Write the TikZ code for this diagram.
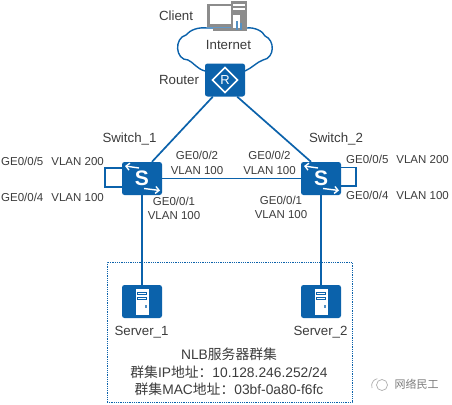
\documentclass[tikz,border=0pt]{standalone}
\usepackage{fontspec}
\setmainfont{Liberation Sans}
\newfontfamily\cjk{Noto Sans CJK SC}
\usetikzlibrary{arrows.meta}
\definecolor{hw}{HTML}{0B62AB}
\definecolor{txt}{HTML}{3C3C3C}
\definecolor{pc}{HTML}{8C8C8C}
\tikzset{
 dev/.style={fill=hw,draw=none,rounded corners=2.5pt,minimum width=40pt,minimum height=33pt,inner sep=0pt},
 link/.style={draw=hw,line width=1.7pt},
 lab/.style={text=txt,font=\fontsize{11.5}{13}\selectfont,inner sep=0pt,align=center},
 big/.style={text=txt,font=\fontsize{13.3}{15}\selectfont,inner sep=0pt,align=center},
 glyph/.style={draw=white,line width=1.6pt},
 wh/.style={draw=white,line width=1.4pt,-{Straight Barb[length=3.5pt,width=7pt]}}
}
\begin{document}
\begin{tikzpicture}[x=1pt,y=-1pt]
\useasboundingbox (0,0) rectangle (452,404);
\fill[white] (0,0) rectangle (452,404);
% cluster
\node[draw=hw,densely dotted,line width=0.8pt,minimum width=245pt,minimum height=140pt,inner sep=0pt] (cluster) at (229.5,332) {};
% cloud
\draw[hw,line width=1.4pt,fill=white] (205,71)
 .. controls (197,69) and (193,62) .. (188,60)
 .. controls (175,60) and (174,38) .. (186,35)
 .. controls (190,30) and (198,27) .. (207,28)
 -- (247,28)
 .. controls (254,27) and (263,31) .. (265,36)
 .. controls (275,40) and (275,58) .. (263,60)
 .. controls (257,62) and (252,68) .. (245,71);
% computer
\fill[pc] (207,4) rectangle (235,27);
\fill[white] (209.5,6.5) rectangle (232.5,24.5);
\fill[pc] (213,28) rectangle (232,31);
\fill[pc] (231,1) rectangle (247,31);
\fill[white] (233,4) rectangle (245,6);
\fill[white] (233,8) rectangle (245,10);
\fill[white] (232.5,15) rectangle (240,28);
\fill[hw!70!white] (236,21) rectangle (238,30);
\fill[hw!70!white] (240,23) rectangle (242,30);
% devices
\node[dev] (router) at (225,80) {};
\node[dev] (sw1) at (142,178.5) {};
\node[dev] (sw2) at (321,178.5) {};
\node[dev] (srv1) at (142,301.5) {};
\node[dev] (srv2) at (321,301.5) {};
% links
\draw[link] ([xshift=8pt]router.south west) -- ([xshift=10pt]sw1.north);
\draw[link] ([xshift=-8pt]router.south east) -- ([xshift=-10pt]sw2.north);
\draw[link] (sw1.east) -- (sw2.west);
\draw[link] (sw1.south) -- (srv1.north);
\draw[link] (sw2.south) -- (srv2.north);
\draw[link] ([yshift=10.5pt]sw1.west) -- ++(-17,0) -- ++(0,19) -- ([yshift=-8.5pt]sw1.west);
\draw[link] ([yshift=11pt]sw2.east) -- ++(15,0) -- ++(0,18.5) -- ([yshift=-7.5pt]sw2.east);
% router glyph
\draw[glyph] (225,67.5) -- (237.5,80) -- (225,92.5) -- (212.5,80) -- cycle;
\node[text=white,font=\fontsize{13}{14}\selectfont,inner sep=0pt] (rglyph) at (225,80) {R};
% switch glyphs
\foreach \c in {sw1,sw2}{
 \node[text=white,font=\bfseries\fontsize{21}{22}\selectfont,inner sep=0pt] at (\c) {S};
 \draw[wh] ([shift={(-3,-10.5)}]\c.center) -- ([shift={(-17,-12.5)}]\c.center);
 \draw[wh] ([shift={(2,10)}]\c.center) -- ([shift={(18,12)}]\c.center);
}
% server glyphs
\foreach \c in {srv1,srv2}{
 \fill[white] ([shift={(-6.5,-13)}]\c.center) rectangle ([shift={(6.5,13)}]\c.center);
 \fill[hw] ([shift={(-5,-9.5)}]\c.center) rectangle ([shift={(5,-6.5)}]\c.center);
 \fill[white] ([shift={(-4,-8.7)}]\c.center) rectangle ([shift={(4,-7.3)}]\c.center);
 \fill[hw] ([shift={(-5,-4.5)}]\c.center) rectangle ([shift={(5,-1.5)}]\c.center);
 \fill[white] ([shift={(-4,-3.7)}]\c.center) rectangle ([shift={(4,-2.3)}]\c.center);
 \fill[hw!70!white] ([shift={(2.5,3)}]\c.center) rectangle ([shift={(5,6.5)}]\c.center);
}
% labels
\node[big] (lclient) at (176,16) {Client};
\node[big] (lnet) at (228.5,45) {Internet};
\node[big] (lrouter) at (179,80) {Router};
\node[big] (ls1) at (129.5,139) {Switch\_1};
\node[big] (ls2) at (336,139) {Switch\_2};
\node[big] (lsv1) at (141.5,332) {Server\_1};
\node[big] (lsv2) at (320.5,332) {Server\_2};
\node[lab,anchor=west] (a1) at (1,161) {GE0/0/5\hspace{8pt}VLAN 200};
\node[lab,anchor=west] (a2) at (1,197) {GE0/0/4\hspace{8pt}VLAN 100};
\node[lab] (a3) at (197,163) {GE0/0/2\\[1.5pt]VLAN 100};
\node[lab] (a4) at (174,208.5) {GE0/0/1\\[1.5pt]VLAN 100};
\node[lab] (a5) at (269.5,163) {GE0/0/2\\[1.5pt]VLAN 100};
\node[lab] (a6) at (281,207.5) {GE0/0/1\\[1.5pt]VLAN 100};
\node[lab,anchor=west] (a7) at (346,159) {GE0/0/5\hspace{8pt}VLAN 200};
\node[lab,anchor=west] (a8) at (346,195.5) {GE0/0/4\hspace{8pt}VLAN 100};
\node[big,font=\fontsize{13.8}{17.4}\selectfont] (info) at (229,372) {NLB{\cjk 服务器群集}\\{\cjk 群集}IP{\cjk 地址：}10.128.246.252/24\\{\cjk 群集}MAC{\cjk 地址：}03bf-0a80-f6fc};
% watermark
\draw[pc!70,line width=0.7pt] (382,385) circle (5.5pt);
\draw[pc!70,line width=0.7pt] (372,388) arc (200:100:7pt);
\node[text=pc!90!black,font=\cjk\fontsize{11}{13}\selectfont,inner sep=0pt] (wm) at (416.5,384) {网络民工};
\end{tikzpicture}
\end{document}
